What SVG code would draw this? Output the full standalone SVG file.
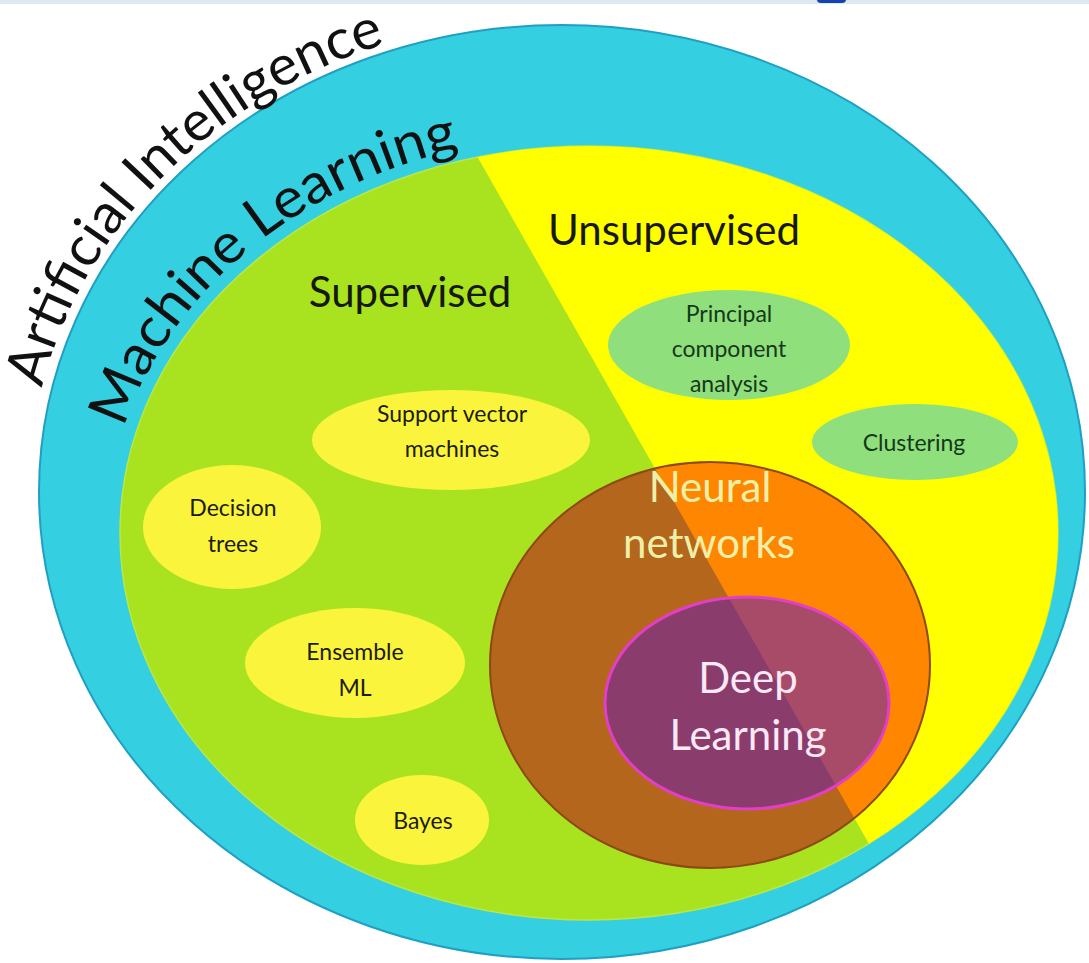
<svg xmlns="http://www.w3.org/2000/svg" width="1089" height="963" viewBox="0 0 1089 963">
  <style>
    .lbl { font-family: Lato, "Liberation Sans", sans-serif; text-anchor: middle; }
    .arc { font-family: Lato, "Liberation Sans", sans-serif; font-size: 56px; fill: #111; }
    .big { font-size: 42px; fill: #15180a; }
    .small { font-size: 23px; fill: #1c1c0e; }
    .green-lbl { font-size: 23px; fill: #16381b; }
    .sup-node { fill: #fbf43c; }
    .unsup-node { fill: #8fe07c; }
  </style>
  <defs>
    <!-- half-plane to the right of the supervised / unsupervised split -->
    <clipPath id="unsupSide">
      <polygon points="445,100 958,1000 1100,1000 1100,100"/>
    </clipPath>
    <path id="aiArc" d="M42,388 A530,474 0 0 1 520,19"/>
    <path id="mlArc" d="M124,428 A481,399 0 0 1 540,136"/>
  </defs>

  <rect width="1089" height="963" fill="#ffffff"/>
  <!-- thin header strip -->
  <rect x="0" y="0" width="1089" height="4" fill="#dde9ee"/>
  <rect x="817" y="-4" width="29" height="7" rx="4" fill="#1442b0"/>

  <g id="artificial-intelligence">
    <ellipse cx="562" cy="492" rx="523" ry="467" fill="#34cfe0" stroke="#1f9fc4" stroke-width="2"/>
    <text class="arc"><textPath href="#aiArc" textLength="508" lengthAdjust="spacingAndGlyphs">Artificial Intelligence</textPath></text>
  </g>

  <g id="machine-learning">
    <ellipse cx="589" cy="533" rx="469" ry="387" fill="#a9e31f" stroke="#b7e84a" stroke-width="1.5"/>
    <text class="arc"><textPath href="#mlArc" textLength="456" lengthAdjust="spacingAndGlyphs">Machine Learning</textPath></text>
  </g>

  <g id="unsupervised-region">
    <ellipse cx="589" cy="533" rx="469" ry="387" fill="#ffff00" clip-path="url(#unsupSide)"/>
  </g>

  <g id="supervised-label">
    <text class="lbl big" x="410" y="307">Supervised</text>
  </g>
  <g id="unsupervised-label">
    <text class="lbl big" x="674" y="245">Unsupervised</text>
  </g>

  <g id="support-vector-machines">
    <ellipse class="sup-node" cx="451" cy="440" rx="139" ry="50"/>
    <text class="lbl small" x="452" y="422">Support vector</text>
    <text class="lbl small" x="452" y="457">machines</text>
  </g>
  <g id="decision-trees">
    <ellipse class="sup-node" cx="232" cy="527" rx="89" ry="62"/>
    <text class="lbl small" x="233" y="516">Decision</text>
    <text class="lbl small" x="233" y="552">trees</text>
  </g>
  <g id="ensemble-ml">
    <ellipse class="sup-node" cx="355" cy="663" rx="110" ry="55"/>
    <text class="lbl small" x="355" y="660">Ensemble</text>
    <text class="lbl small" x="355" y="696">ML</text>
  </g>
  <g id="bayes">
    <ellipse class="sup-node" cx="422" cy="820" rx="67" ry="45"/>
    <text class="lbl small" x="423" y="829">Bayes</text>
  </g>

  <g id="principal-component-analysis">
    <ellipse class="unsup-node" cx="729" cy="345" rx="121" ry="55"/>
    <text class="lbl green-lbl" x="729" y="322">Principal</text>
    <text class="lbl green-lbl" x="729" y="357">component</text>
    <text class="lbl green-lbl" x="729" y="392">analysis</text>
  </g>
  <g id="clustering">
    <ellipse class="unsup-node" cx="915" cy="442" rx="103" ry="38"/>
    <text class="lbl green-lbl" x="914" y="451">Clustering</text>
  </g>

  <g id="neural-networks">
    <ellipse cx="710" cy="665" rx="220" ry="203" fill="#b4661d"/>
    <ellipse cx="710" cy="665" rx="220" ry="203" fill="#ff8600" clip-path="url(#unsupSide)"/>
    <ellipse cx="710" cy="665" rx="220" ry="203" fill="none" stroke="#8e4812" stroke-width="2"/>
    <text class="lbl big" x="710" y="502" style="fill:#eef0a8">Neural</text>
    <text class="lbl big" x="709" y="558" style="fill:#eef0a8">networks</text>
  </g>

  <g id="deep-learning">
    <ellipse cx="747" cy="703" rx="142" ry="106" fill="#8a3c6c"/>
    <ellipse cx="747" cy="703" rx="142" ry="106" fill="#a74b69" clip-path="url(#unsupSide)"/>
    <ellipse cx="747" cy="703" rx="142" ry="106" fill="none" stroke="#e23ec6" stroke-width="3"/>
    <text class="lbl big" x="748" y="693" style="fill:#fde8f6">Deep</text>
    <text class="lbl big" x="748" y="750" style="fill:#fde8f6">Learning</text>
  </g>

  <g id="connectors"/>
</svg>
